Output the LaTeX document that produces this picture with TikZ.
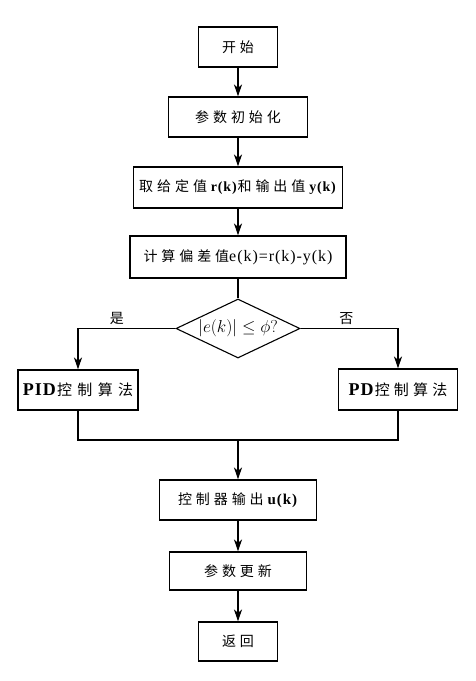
\documentclass[tikz,border=0pt]{standalone}
\usepackage{amsmath,amssymb}
\usepackage{fontspec}
\setmainfont{Liberation Serif}[LetterSpace=6]
\newfontfamily\cjk[LetterSpace=28]{Noto Sans CJK SC}
\newfontfamily\cjkwide[LetterSpace=36]{Noto Sans CJK SC}
\usepackage{tikz}
\usetikzlibrary{arrows.meta,shapes.geometric}

\begin{document}
\begin{tikzpicture}[x=1pt,y=-1pt,
    box/.style={draw,line width=1.1pt,inner sep=0pt,font=\fontsize{14}{16}\selectfont},
    test/.style={draw,diamond,aspect=2.1,line width=1.1pt,inner sep=0pt,
      minimum width=124,minimum height=59,font=\fontsize{17}{19}\selectfont},
    flow/.style={line width=1.1pt,-{Stealth[length=12pt,width=8pt,inset=3.5pt]}},
    plainline/.style={line width=1.1pt}]
  \useasboundingbox (0,0) rectangle (475,681);
  \node[box,minimum width=79,minimum height=40] (start) at (238,47) {\cjk 开始};
  \node[box,minimum width=139,minimum height=40] (init) at (238,117) {\cjk 参数初始化};
  \node[box,minimum width=209,minimum height=41] (fetch) at (238,187.5)
    {{\cjk 取给定值}\textbf{r(k)}{\cjk 和输出值}\textbf{y(k)}};
  \node[box,minimum width=216,minimum height=42] (calc) at (238,257)
    {{\cjk 计算偏差值}{\fontsize{16}{18}\selectfont e(k)=r(k)-y(k)}};
  \node[test] (check) at (238,328.5) {$\left|e(k)\right|\le\phi?$};
  \node[box,minimum width=120,minimum height=40] (pid) at (78,390)
    {{\fontsize{18}{20}\selectfont\textbf{PID}}{\fontsize{15}{17}\selectfont\cjkwide 控制算法}};
  \node[box,minimum width=119,minimum height=41] (pd) at (398,389.5)
    {{\fontsize{18}{20}\selectfont\textbf{PD}}{\fontsize{15}{17}\selectfont\cjk 控制算法}};
  \coordinate (merge) at (238,440);
  \node[box,minimum width=157,minimum height=40] (output) at (238,500)
    {{\cjk 控制器输出}{\fontsize{15}{17}\selectfont\textbf{u(k)}}};
  \node[box,minimum width=137,minimum height=38] (update) at (238,571) {\cjk 参数更新};
  \node[box,minimum width=79,minimum height=39] (back) at (238,641.5) {\cjk 返回};

  \draw[flow] (start) -- (init);
  \draw[flow] (init) -- (fetch);
  \draw[flow] (fetch) -- (calc);
  \draw[plainline] (calc) -- (check);
  \draw[flow] (check.west) -| node[pos=0.3,above,font=\fontsize{14}{16}\selectfont\cjk] (yes) {是} (pid.north);
  \draw[flow] (check.east) -| node[pos=0.235,above,font=\fontsize{14}{16}\selectfont\cjk] (no) {否} (pd.north);
  \draw[plainline] (pid.south) |- (merge) -| (pd.south);
  \draw[flow] (merge) -- (output);
  \draw[flow] (output) -- (update);
  \draw[flow] (update) -- (back);
\end{tikzpicture}
\end{document}
